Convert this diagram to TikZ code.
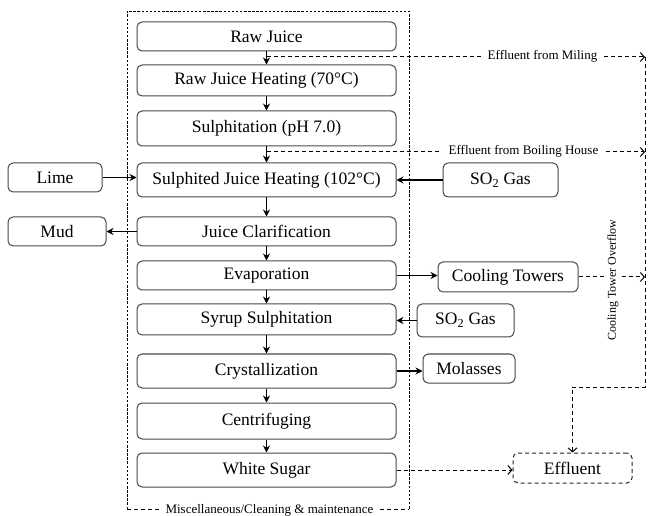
\documentclass[tikz,border=0pt]{standalone}
\usepackage{fontspec}
\setmainfont{Liberation Serif}
\usetikzlibrary{arrows.meta}
\tikzset{
 boxbase/.style={draw=black!72, line width=1pt, rounded corners=5pt, fill=white, font=\fontsize{17.5}{20}\selectfont, inner sep=0pt, align=center},
 proc/.style={boxbase, minimum width=259pt},
 flow/.style={line width=1.1pt, -{Stealth[length=7pt,width=7pt]}},
 effl/.style={line width=1pt, dash pattern=on 4pt off 3pt},
 eff/.style={effl, -{Straight Barb[length=4pt,width=9pt]}},
 framestyle/.style={line width=0.75pt, dash pattern=on 2.5pt off 1.6pt},
 smalltext/.style={font=\fontsize{13}{15}\selectfont, inner ysep=1pt, inner xsep=7pt},
}
\begin{document}
\begin{tikzpicture}[x=1pt,y=-1pt]
\useasboundingbox (0,0) rectangle (649,516);
% outer frame
\coordinate (fbl) at (127,509);
\coordinate (ftl) at (127,11);
\coordinate (ftr) at (409,11);
\coordinate (fbr) at (409,509);
\draw[framestyle] (fbl) -- (ftl) -- (ftr) -- (fbr);
\node[smalltext, inner xsep=6pt] (misc) at (269.5,510) {Miscellaneous/Cleaning \& maintenance};
\draw[effl] (fbl) -- (fbl -| misc.west);
\draw[effl] (fbr -| misc.east) -- (fbr);
% main process boxes
\node[proc, minimum height=29pt] (rj)  at (266.5,36.5) {Raw Juice};
\node[proc, minimum height=31pt] (rjh) at (266.5,80.5) {Raw Juice Heating (70°C)};
\node[proc, minimum height=35pt] (sul) at (266.5,128.5) {Sulphitation (pH 7.0)};
\node[proc, minimum height=34pt] (sjh) at (266.5,180) {Sulphited Juice Heating (102°C)};
\node[proc, minimum height=29pt] (jc)  at (266.5,231.5) {Juice Clarification};
\node[proc, minimum height=29pt] (ev)  at (266.5,275.5) {Evaporation};
\node[proc, minimum height=31pt] (sy)  at (266.5,319.5) {Syrup Sulphitation};
\node[proc, minimum height=34pt] (cr)  at (266.5,371) {Crystallization};
\node[proc, minimum height=36pt] (ce)  at (266.5,421) {Centrifuging};
\node[proc, minimum height=34pt] (ws)  at (266.5,470) {White Sugar};
% side boxes
\node[boxbase, minimum width=94pt, minimum height=29pt] (lime) at (55,177.5) {Lime};
\node[boxbase, minimum width=98pt, minimum height=29pt] (mud) at (57,231.5) {Mud};
\node[boxbase, minimum width=115pt, minimum height=34pt] (so1) at (500.5,180) {SO\textsubscript{2} Gas};
\node[boxbase, minimum width=140pt, minimum height=30pt] (ct) at (508,277) {Cooling Towers};
\node[boxbase, minimum width=97pt, minimum height=33pt] (so2) at (465.5,320.5) {SO\textsubscript{2} Gas};
\node[boxbase, minimum width=92pt, minimum height=29pt] (mol) at (469,368.5) {Molasses};
\node[boxbase, draw=black!85, dash pattern=on 4pt off 3pt, minimum width=119pt, minimum height=30pt] (eff) at (572.5,468) {Effluent};
% main flow
\draw[flow] (rj) -- (rjh);
\draw[flow] (rjh) -- (sul);
\draw[flow] (sul) -- (sjh);
\draw[flow] (sjh) -- (jc);
\draw[flow] (jc) -- (ev);
\draw[flow] (ev) -- (sy);
\draw[flow] (sy) -- (cr);
\draw[flow] (cr) -- (ce);
\draw[flow] (ce) -- (ws);
% side flows
\draw[flow] (lime.east) -- (lime.east -| sjh.west);
\draw[flow] (so1.west) -- (so1.west -| sjh.east);
\draw[flow] (jc.west) -- (jc.west -| mud.east);
\draw[flow] (ev.east) -- (ev.east -| ct.west);
\draw[flow] (so2.west) -- (so2.west -| sy.east);
\draw[flow] (cr.east) -- (cr.east -| mol.west);
% effluent streams
\coordinate (m1) at (266.5,57);
\coordinate (m2) at (266.5,152);
\coordinate (rtop) at (645,57);
\coordinate (rmid) at (645,152);
\coordinate (rbot) at (645,387);
\node[smalltext] (miltxt) at (542.5,56.5) {Effluent from Miling};
\node[smalltext] (boiltxt) at (523.5,151.5) {Effluent from Boiling House};
\draw[effl] (m1) -- (m1 -| miltxt.west);
\draw[eff] (m1 -| miltxt.east) -- (rtop);
\draw[effl] (m2) -- (m2 -| boiltxt.west);
\draw[eff] (m2 -| boiltxt.east) -- (rmid);
\node[font=\fontsize{12}{14}\selectfont, rotate=90, inner sep=3pt] (ctt) at (613,280) {Cooling Tower Overflow};
\draw[effl] (ct.east) -- (ct.east -| ctt.north);
\draw[eff] (ct.east -| ctt.south) -- (ct.east -| rtop);
\draw[eff] (rtop) -- (rbot) -| (eff.north);
\draw[eff] (ws.east) -- (ws.east -| eff.west);
\end{tikzpicture}
\end{document}
